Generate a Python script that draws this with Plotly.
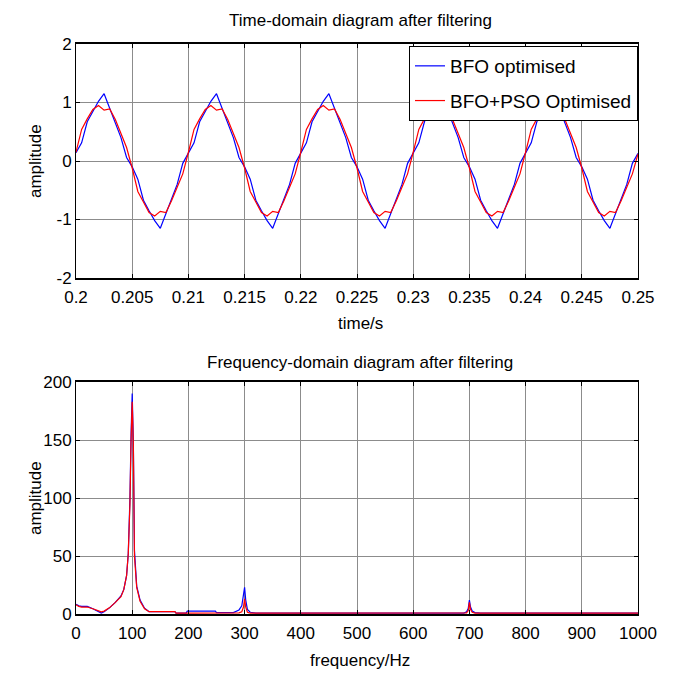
import numpy as np
import plotly.graph_objects as go

# ---------------- data ----------------
time_s = np.linspace(0.2, 0.25, 101)

bfo_time = [
    0.14, 0.31, 0.67, 0.85, 1.02, 1.15, 0.91, 0.66, 0.40, 0.06,
    -0.10, -0.31, -0.67, -0.85, -1.02, -1.15, -0.91, -0.66, -0.40, -0.04,
    0.14, 0.31, 0.67, 0.85, 1.02, 1.15, 0.91, 0.66, 0.40, 0.06,
    -0.10, -0.31, -0.67, -0.85, -1.02, -1.15, -0.91, -0.66, -0.40, -0.04,
    0.14, 0.31, 0.67, 0.85, 1.02, 1.15, 0.91, 0.66, 0.40, 0.06,
    -0.10, -0.31, -0.67, -0.85, -1.02, -1.15, -0.91, -0.66, -0.40, -0.04,
    0.14, 0.31, 0.67, 0.85, 1.02, 1.15, 0.91, 0.66, 0.40, 0.06,
    -0.10, -0.31, -0.67, -0.85, -1.02, -1.15, -0.91, -0.66, -0.40, -0.04,
    0.14, 0.31, 0.67, 0.85, 1.02, 1.15, 0.91, 0.66, 0.40, 0.06,
    -0.10, -0.31, -0.67, -0.85, -1.02, -1.15, -0.91, -0.66, -0.40, -0.04,
    0.13,
]
pso_time = [
    0.15, 0.54, 0.72, 0.88, 0.95, 0.87, 0.89, 0.71, 0.47, 0.23,
    -0.12, -0.52, -0.70, -0.88, -0.94, -0.86, -0.88, -0.68, -0.45, -0.22,
    0.15, 0.54, 0.72, 0.88, 0.95, 0.87, 0.89, 0.71, 0.47, 0.23,
    -0.12, -0.52, -0.70, -0.88, -0.94, -0.86, -0.88, -0.68, -0.45, -0.22,
    0.15, 0.54, 0.72, 0.88, 0.95, 0.87, 0.89, 0.71, 0.47, 0.23,
    -0.12, -0.52, -0.70, -0.88, -0.94, -0.86, -0.88, -0.68, -0.45, -0.22,
    0.15, 0.54, 0.72, 0.88, 0.95, 0.87, 0.89, 0.71, 0.47, 0.23,
    -0.12, -0.52, -0.70, -0.88, -0.94, -0.86, -0.88, -0.68, -0.45, -0.22,
    0.15, 0.54, 0.72, 0.88, 0.95, 0.87, 0.89, 0.71, 0.47, 0.23,
    -0.12, -0.52, -0.70, -0.88, -0.94, -0.86, -0.88, -0.68, -0.45, -0.22,
    0.12,
]

freq_hz = [0, 5, 10, 20, 30, 40, 45, 50, 60, 70, 80, 85, 90, 93, 96, 98, 100,
           102, 104, 108, 114, 122, 130, 176, 178, 196, 198, 248, 250, 280,
           290, 295, 298, 300, 302, 305, 310, 320, 690, 695, 698, 700, 702,
           705, 710, 720, 1000]
bfo_freq = [8.5, 7, 6.5, 6.5, 4.5, 2.5, 0.8, 2.0, 5.5, 10, 15.5, 21, 33, 52,
            100, 155, 190, 150, 55, 24, 12, 5, 2, 2, 0.8, 0.8, 2.5, 2.5, 1.2,
            1.2, 3.5, 7, 15, 23, 12, 4, 1.5, 0.8, 0.8, 2, 5, 12, 6, 2.5, 1.2,
            0.8, 0.8]
pso_freq = [8, 6.5, 6, 6, 4.5, 2.5, 1.8, 2.5, 5.5, 10, 15, 21, 33, 52,
            95, 150, 183, 148, 50, 23, 11, 4.5, 2, 2, 0.8, 0.8, 0.8, 0.8, 0.8,
            0.8, 1, 2, 6, 13, 6, 1.5, 0.8, 0.8, 0.8, 1, 3, 10, 4, 1.5, 0.8,
            0.8, 0.8]

time_ticks = [0.2, 0.205, 0.21, 0.215, 0.22, 0.225, 0.23, 0.235, 0.24, 0.245, 0.25]
time_ticklabels = ["0.2", "0.205", "0.21", "0.215", "0.22", "0.225", "0.23",
                   "0.235", "0.24", "0.245", "0.25"]
amp_ticks_top = [-2, -1, 0, 1, 2]
amp_ticklabels_top = ["-2", "-1", "0", "1", "2"]
freq_ticks = [0, 100, 200, 300, 400, 500, 600, 700, 800, 900, 1000]
amp_ticks_bottom = [0, 50, 100, 150, 200]

# ---------------- figure ----------------
W, H = 673, 677
OFF = 8  # page body margin
FONT = "Liberation Sans, Arial, Helvetica, sans-serif"
FS = 17

def px_x(p):
    return (p - OFF) / W

def px_y(p):
    return 1 - (p - OFF) / H

fig = go.Figure()
fig.add_trace(go.Scatter(x=time_s, y=bfo_time, mode="lines", name="BFO optimised",
                         legendgroup="a",
                         line=dict(color="#0000ff", width=1.2), xaxis="x", yaxis="y"))
fig.add_trace(go.Scatter(x=time_s, y=pso_time, mode="lines", name="BFO+PSO Optimised",
                         legendgroup="b",
                         line=dict(color="#ff0000", width=1.2), xaxis="x", yaxis="y"))
fig.add_trace(go.Scatter(x=freq_hz, y=bfo_freq, mode="lines", name="BFO optimised",
                         line=dict(color="#0000ff", width=1.2), showlegend=False,
                         xaxis="x2", yaxis="y2"))
fig.add_trace(go.Scatter(x=freq_hz, y=pso_freq, mode="lines", name="BFO+PSO Optimised",
                         line=dict(color="#ff0000", width=1.2), showlegend=False,
                         xaxis="x2", yaxis="y2"))

axis_common = dict(
    showline=True, linecolor="black", mirror="allticks",
    ticks="inside", ticklen=4, tickcolor="black",
    showgrid=True, gridcolor="#8c8c8c", gridwidth=1,
    zeroline=False, tickfont=dict(family=FONT, size=FS, color="black"),
)

x_dom = [px_x(76), px_x(638)]
fig.update_layout(
    width=W, height=H,
    margin=dict(l=0, r=0, t=0, b=0, pad=0, autoexpand=False),
    paper_bgcolor="white", plot_bgcolor="white",
    font=dict(family=FONT, size=FS, color="black"),
    xaxis=dict(domain=x_dom, range=[0.2, 0.25], tickvals=time_ticks,
               ticktext=time_ticklabels, anchor="y", linewidth=2,
               ticklabelstandoff=3, **axis_common),
    yaxis=dict(domain=[px_y(278), px_y(44)], range=[-2, 2], tickvals=amp_ticks_top,
               ticktext=amp_ticklabels_top,
               anchor="x", linewidth=1, ticklabelstandoff=0, **axis_common),
    xaxis2=dict(domain=x_dom, range=[0, 1000], tickvals=freq_ticks, anchor="y2",
                linewidth=2, ticklabelstandoff=3, **axis_common),
    yaxis2=dict(domain=[px_y(614), px_y(382)], range=[0, 200], tickvals=amp_ticks_bottom,
                anchor="x2", linewidth=1, ticklabelstandoff=0, **axis_common),
    legend=dict(x=px_x(638), y=px_y(46), xanchor="right", yanchor="top",
                bgcolor="white", bordercolor="black", borderwidth=1,
                tracegroupgap=7,
                font=dict(family=FONT, size=19, color="black")),
    showlegend=True,
)

annots = [
    dict(text="Time-domain diagram after filtering", x=px_x(360), y=px_y(20)),
    dict(text="Frequency-domain diagram after filtering", x=px_x(360), y=px_y(362)),
    dict(text="time/s", x=px_x(360), y=px_y(323)),
    dict(text="frequency/Hz", x=px_x(360), y=px_y(660)),
    dict(text="amplitude", x=px_x(35), y=px_y(161), textangle=-90),
    dict(text="amplitude", x=px_x(35), y=px_y(498), textangle=-90),
]
for a in annots:
    fig.add_annotation(xref="paper", yref="paper", showarrow=False,
                       xanchor="center", yanchor="middle",
                       font=dict(family=FONT, size=FS, color="black"), **a)

fig.write_html("out.html")
